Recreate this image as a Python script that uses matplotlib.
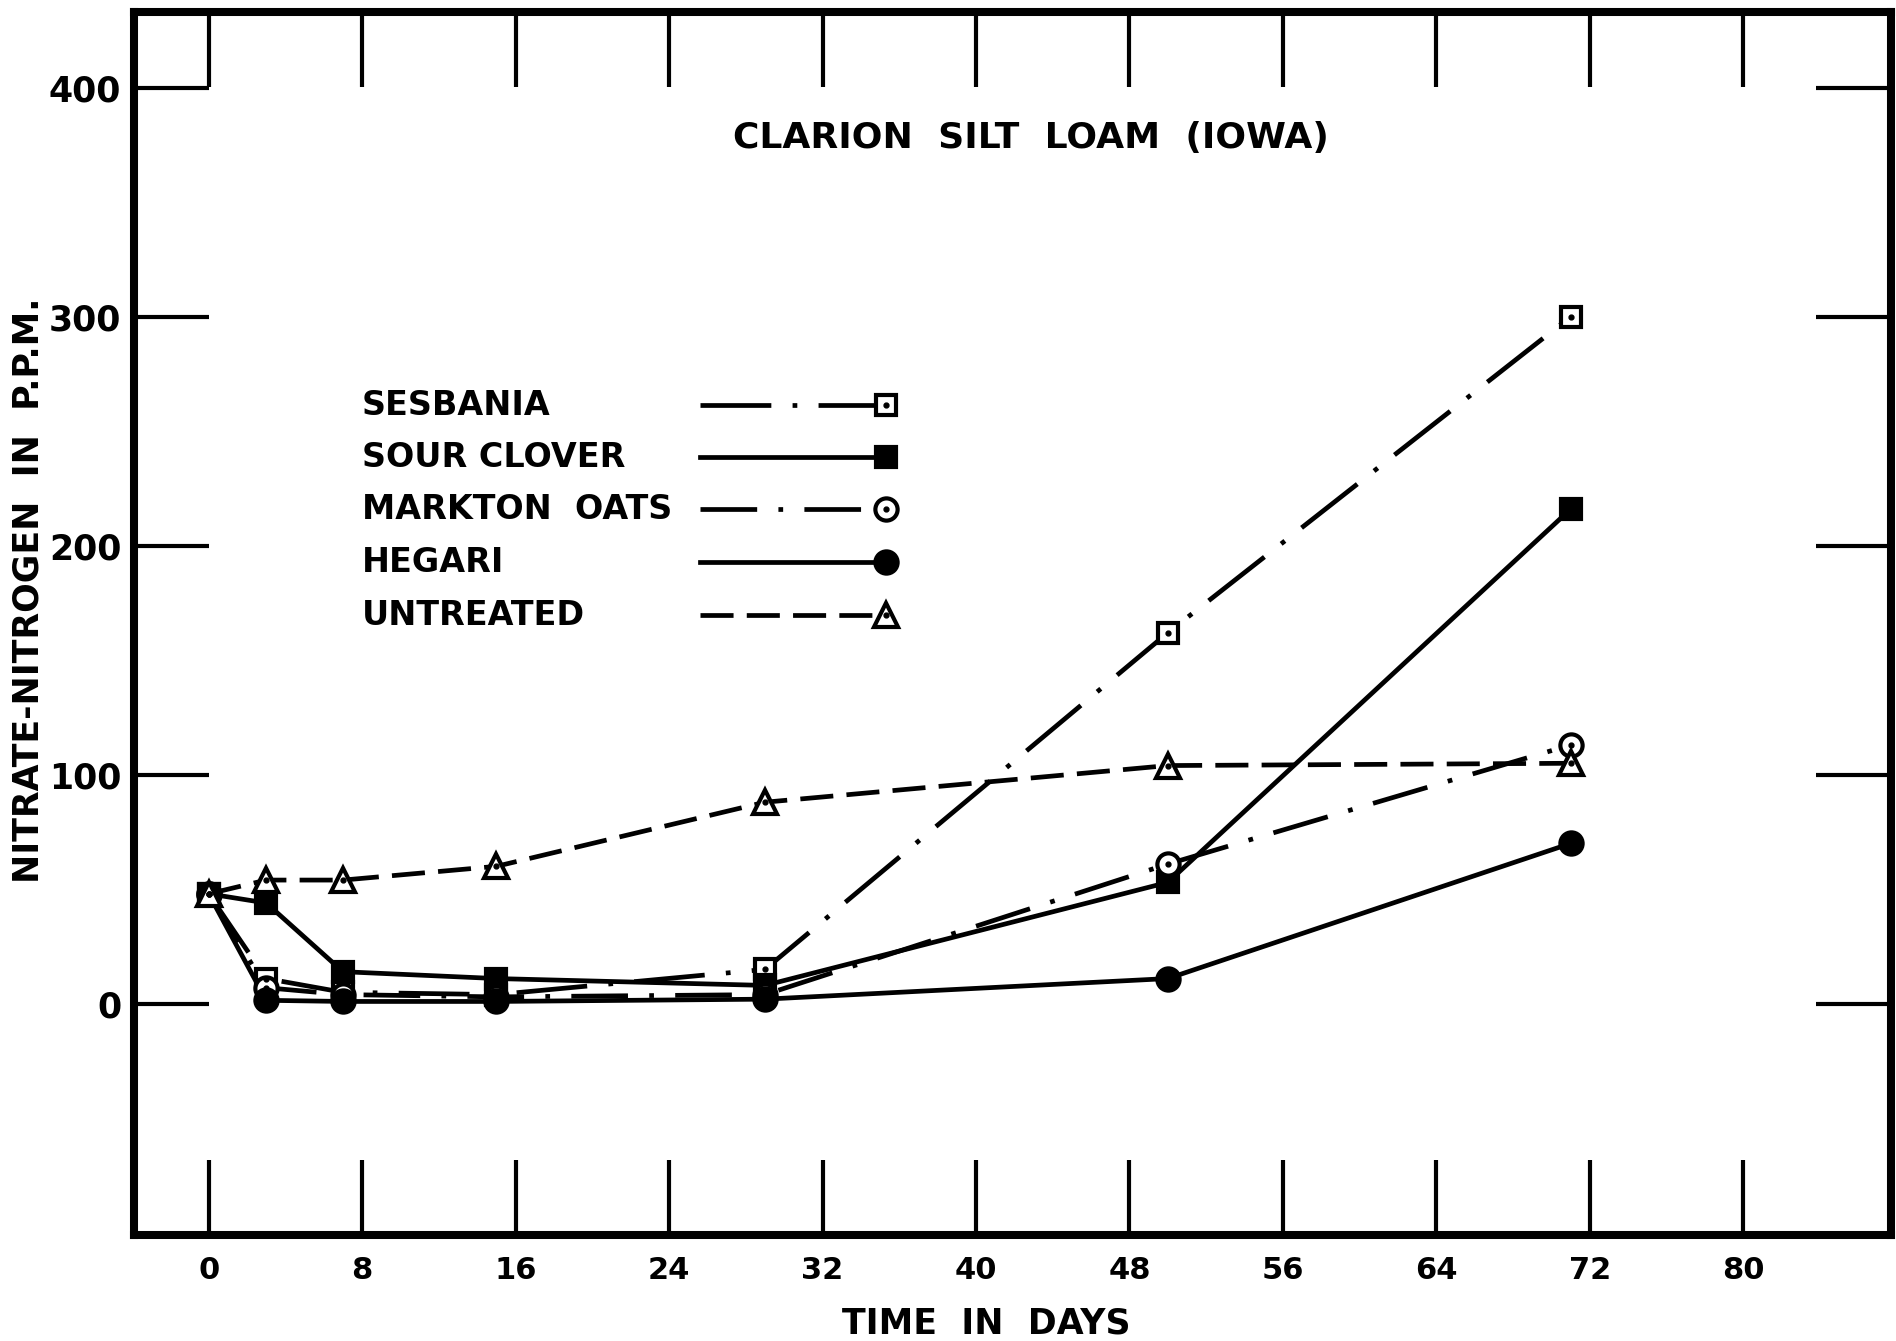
import numpy as np
import matplotlib.pyplot as plt

# nitrate-nitrogen (p.p.m.) in Clarion silt loam after incorporating green manures
days = [0, 3, 7, 15, 29, 50, 71]
sesbania = [48, 11, 5, 4, 15, 162, 300]
sour_clover = [48, 44, 14, 11, 8, 53, 216]
markton_oats = [48, 7, 4, 3, 4, 61, 113]
hegari = [48, 1.5, 1, 1, 2, 11, 70]
untreated = [48, 54, 54, 60, 88, 104, 105]

labels = ["SESBANIA", "SOUR CLOVER", "MARKTON  OATS", "HEGARI", "UNTREATED"]
x_ticks = [0, 8, 16, 24, 32, 40, 48, 56, 64, 72, 80]
y_ticks = [0, 100, 200, 300, 400]

plt.rcParams['font.family'] = ['DejaVu Sans']
plt.rcParams['font.weight'] = 'bold'
plt.rcParams['axes.labelweight'] = 'bold'

LW = 3.4
dashdot_a = (0, (15, 4.5, 1, 4.5))
dashdot_b = (0, (12, 4.5, 1, 4.5))
dashed = (0, (7, 2.8))

# (values, linestyle, marker, facecolor, centre dot)
styles = [
    (sesbania, dashdot_a, 's', 'white', True),
    (sour_clover, '-', 's', 'black', False),
    (markton_oats, dashdot_b, 'o', 'white', True),
    (hegari, '-', 'o', 'black', False),
    (untreated, dashed, '^', 'white', True),
]
msizes = {'s': 15, 'o': 16, '^': 17}

fig = plt.figure(figsize=(18.96, 13.41), dpi=100)
ax = fig.add_axes([0.0706, 0.079, 0.9268, 0.912])

for vals, ls, mk, fc, dot in styles:
    ax.plot(days, vals, color='black', lw=LW, linestyle=ls, zorder=2)
    ax.plot(days, vals, linestyle='none', marker=mk, markersize=msizes[mk],
            markerfacecolor=fc, markeredgecolor='black', markeredgewidth=3, zorder=3)
    if dot:
        ax.plot(days, vals, linestyle='none', marker='o', markersize=3.5,
                color='black', zorder=4)

ax.set_xlim(-3.9, 87.7)
ax.set_ylim(-101, 433)
ax.set_xticks(x_ticks)
ax.set_yticks(y_ticks)

for sp in ax.spines.values():
    sp.set_linewidth(5.8)

ax.tick_params(axis='both', direction='in', length=54, width=3, color='black')
ax.tick_params(axis='x', top=True, bottom=True, labelsize=22, pad=15)
ax.tick_params(axis='y', left=True, right=True, labelsize=25, pad=9)

ax.set_xlabel("TIME  IN  DAYS", fontsize=25, va='center')
ax.xaxis.set_label_coords(0.485, -0.0725)
ax.set_ylabel("NITRATE-NITROGEN  IN  P.P.M.", fontsize=25, va='center')
ax.yaxis.set_label_coords(-0.06, 0.527)

ax.text(0.5105, 0.897, "CLARION  SILT  LOAM  (IOWA)", transform=ax.transAxes,
        ha='center', va='center', fontsize=26)

# key drawn inside the frame: label, line sample, marker at the right end
row_y = [0.6787, 0.6361, 0.5936, 0.5503, 0.5070]
for (vals, ls, mk, fc, dot), lab, yy in zip(styles, labels, row_y):
    ax.text(0.1296, yy, lab, transform=ax.transAxes, ha='left', va='center', fontsize=24)
    ax.plot([0.3223, 0.428], [yy, yy], transform=ax.transAxes, color='black',
            lw=LW, linestyle=ls)
    ax.plot([0.428], [yy], transform=ax.transAxes, linestyle='none', marker=mk,
            markersize=msizes[mk], markerfacecolor=fc, markeredgecolor='black',
            markeredgewidth=3)
    if dot:
        ax.plot([0.428], [yy], transform=ax.transAxes, linestyle='none', marker='o',
                markersize=3.5, color='black')

fig.savefig("out.png", dpi=100)
